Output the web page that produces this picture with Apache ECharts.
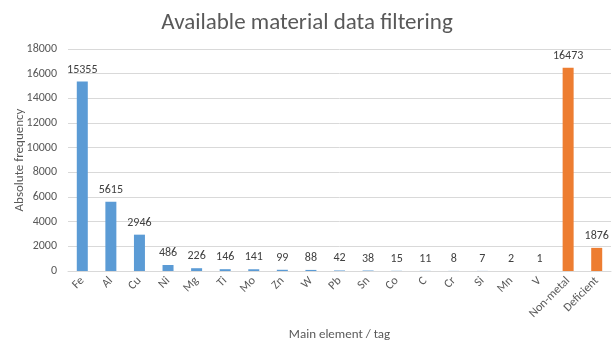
<!DOCTYPE html>
<html lang="en">
<head>
    <meta charset="UTF-8">
    <title>Available material data filtering</title>
    <script type="text/javascript" src="https://cdn.jsdelivr.net/npm/echarts@6/dist/echarts.min.js"></script>
    <style type="text/css">
        html, body { margin: 0; padding: 0; background: #fff; }
        #chart { width: 614px; height: 345px; }
    </style>
</head>
<body>
    <div id="chart"></div>
</body>
<script type="text/javascript">
    var categories = ['Fe', 'Al', 'Cu', 'Ni', 'Mg', 'Ti', 'Mo', 'Zn', 'W', 'Pb', 'Sn', 'Co', 'C', 'Cr', 'Si', 'Mn', 'V', 'Non-metal', 'Deficient'];
    var counts = [15355, 5615, 2946, 486, 226, 146, 141, 99, 88, 42, 38, 15, 11, 8, 7, 2, 1, 16473, 1876];
    var tagNames = ['Non-metal', 'Deficient'];
    var yTicks = [0, 2000, 4000, 6000, 8000, 10000, 12000, 14000, 16000, 18000];

    var chart = echarts.init(document.getElementById('chart'));
    var font = 'Calibri, Carlito, "Open Sans", sans-serif';

    var options = {
        animation: false,
        textStyle: { fontFamily: font },
        title: {
            text: 'Available material data filtering',
            left: 'center',
            top: 7,
            textStyle: { fontSize: 23, fontWeight: 'normal', color: '#595959', fontFamily: font }
        },
        grid: { left: 68, right: 3, top: 49, bottom: 74, outerBoundsMode: 'none', containLabel: false },
        xAxis: {
            type: 'category',
            data: categories,
            name: 'Main element / tag',
            nameLocation: 'middle',
            nameGap: 57,
            nameMoveOverlap: false,
            nameTextStyle: { fontSize: 13, color: '#595959' },
            axisLine: { lineStyle: { color: '#d9d9d9' } },
            axisTick: { show: false },
            axisLabel: { rotate: 45, interval: 0, fontSize: 12, color: '#595959', margin: 8 }
        },
        yAxis: {
            type: 'value',
            min: yTicks[0],
            max: yTicks[yTicks.length - 1],
            interval: yTicks[1] - yTicks[0],
            name: 'Absolute frequency',
            nameLocation: 'middle',
            nameGap: 42,
            nameMoveOverlap: false,
            nameTextStyle: { fontSize: 13, color: '#595959' },
            axisLine: { show: false },
            axisTick: { show: false },
            splitLine: { lineStyle: { color: '#d9d9d9' } },
            axisLabel: {
                fontSize: 12, color: '#595959', margin: 11,
                formatter: function (v) { return String(v); }
            }
        },
        series: [{
            type: 'bar',
            data: counts,
            barWidth: 11,
            itemStyle: {
                color: function (p) {
                    return tagNames.indexOf(p.name) >= 0 ? '#ED7D31' : '#5B9BD5';
                }
            },
            label: {
                show: true,
                position: 'top',
                distance: 6,
                fontSize: 12,
                color: '#404040'
            }
        }]
    };
    chart.setOption(options);
</script>
</html>
